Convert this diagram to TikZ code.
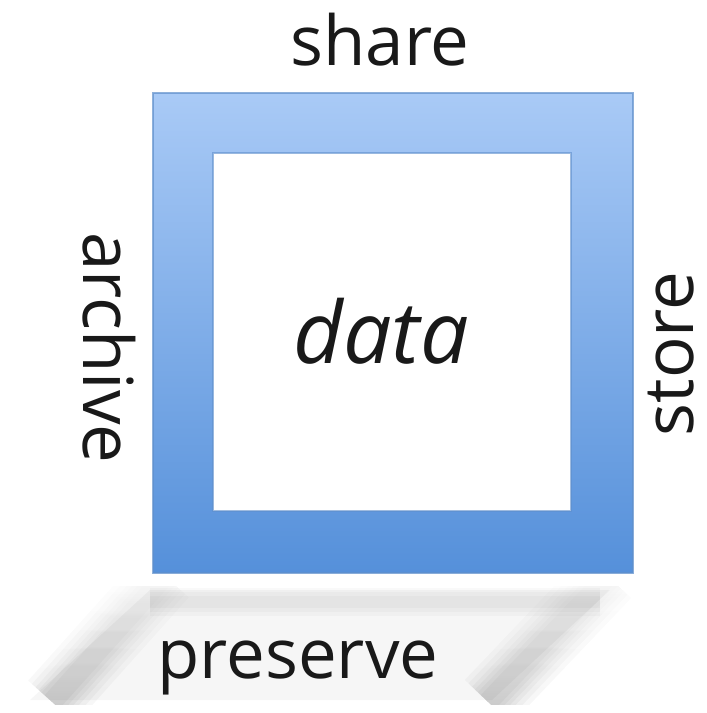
\documentclass[tikz,border=0pt]{standalone}
\usepackage{fontspec}
\setmainfont{Open Sans}
\usetikzlibrary{fadings}
\tikzfading[name=bandfade, top color=transparent!100, middle color=transparent!10, bottom color=transparent!0]
\begin{document}
\begin{tikzpicture}[x=1pt,y=-1pt,
  lbl/.style={font=\fontsize{69}{80}\selectfont, text=black!90, inner sep=0pt, anchor=base},
  shadowband/.style={line cap=butt, draw=black}]
\definecolor{frametop}{HTML}{A9CAF6}
\definecolor{framebot}{HTML}{5590DA}
\definecolor{frameedge}{HTML}{5F8FCB}
\useasboundingbox (0,0) rectangle (707,713);
\fill[white] (0,0) rectangle (707,713);
% shadow
\coordinate (stl) at (150,590);
\coordinate (str) at (610,590);
\coordinate (sbr) at (492,700);
\coordinate (sbl) at (30,700);
\coordinate (la) at (165,576);
\coordinate (lb) at (52,702);
\coordinate (ra) at (608,576);
\coordinate (rb) at (488,702);
\coordinate (ta) at (150,602);
\coordinate (tb) at (600,602);
\coordinate (ca) at (0,586);
\coordinate (cb) at (707,704);
\fill[black, opacity=0.035] (stl) -- (str) -- (sbr) -- (sbl) -- cycle;
\begin{scope}
\clip (ca) rectangle (cb);
\foreach \w in {28,20,12} {
  \draw[shadowband, line width=\w pt, opacity=0.025] (ta) -- (tb);
}
\foreach \w in {64,54,44,36,28,20} {
  \draw[shadowband, line width=\w pt, opacity=0.04, path fading=bandfade] (la) -- (lb);
  \draw[shadowband, line width=\w pt, opacity=0.04, path fading=bandfade] (ra) -- (rb);
}
\end{scope}
% frame
\coordinate (otl) at (153,93);
\coordinate (obr) at (633,573);
\coordinate (itl) at (213,153);
\coordinate (ibr) at (571,511);
\shade[even odd rule, top color=frametop, bottom color=framebot]
  (otl) rectangle (obr) (itl) rectangle (ibr);
\draw[frameedge, line width=1.4pt, opacity=0.7] (otl) rectangle (obr);
\draw[frameedge, line width=1.4pt, opacity=0.6] (itl) rectangle (ibr);
% labels
\node[lbl] (share) at (380,65) {share};
\node[lbl, rotate=-90] (archive) at (83,348) {archive};
\node[lbl, rotate=90, text depth=0pt] (store) at (693,354) {store};
\node[lbl, font=\fontsize{86}{96}\selectfont\itshape] (data) at (381,363) {data};
\node[lbl] (preserve) at (298,678) {preserve};
\end{tikzpicture}
\end{document}
